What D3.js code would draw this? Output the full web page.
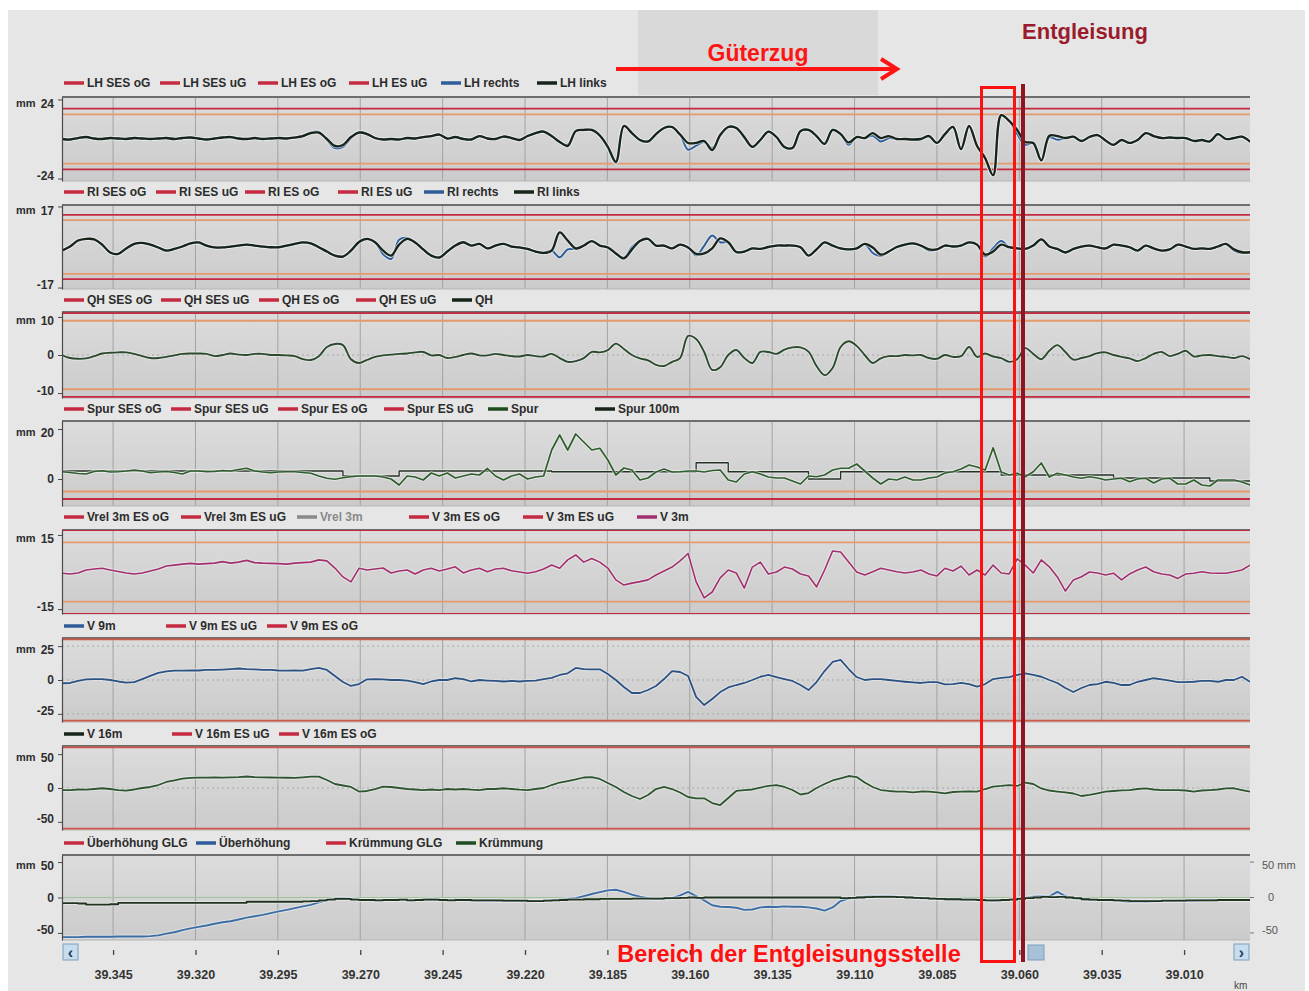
<!DOCTYPE html>
<html>
<head>
<meta charset="utf-8">
<script src="https://cdn.jsdelivr.net/npm/d3@7"></script>
<style>
  html, body { margin: 0; padding: 0; background: #fff; }
  svg text { font-family: "Liberation Sans Narrow", "Liberation Sans", Arial, sans-serif; }
</style>
</head>
<body>
<div id="wrapper"></div>
<script>
// km positions of the x ticks and the labels as printed on the chart
var kmStart = 39.3605, kmEnd = 39.000;
var kmTicks = [39.345, 39.320, 39.295, 39.270, 39.245, 39.220, 39.195, 39.170, 39.145, 39.120, 39.095, 39.070, 39.045, 39.020];
var kmTickLabels = ["39.345", "39.320", "39.295", "39.270", "39.245", "39.220", "39.185", "39.160", "39.135", "39.110", "39.085", "39.060", "39.035", "39.010"];

// Längshöhe (mm)
var lhLinks = [
  0, -0.3, 0.6, 1.2, 0.3, 0, 0.6, 0.3, 0, 0.6,
  0.3, 0, 0.3, 0.6, 0, 0.6, 0.9, 0.3, -0.3, 0.3,
  0.9, 1.2, 0.3, 0, 0.6, 0, 0.3, 0.6, 0.3, 0.9,
  1.8, 3.6, 3.9, 0, -4.2, -3.6, 1.2, 3.9, 3, 0.6,
  -0.3, 0, -0.3, 0.6, 0.3, 1.2, 1.8, 2.7, 0.3, 1.2,
  0, -0.3, 1.8, 0.3, 0, 1.5, 0.6, -0.6, 1.8, 3.6,
  4.5, 1.8, -1.8, -4.2, 4.8, 5.5, 5.5, 2.1, -4.7, -13.8,
  7.9, 3.6, -0.6, -1.5, 3, 6.7, 7.3, 2.7, -2.4, -2.4,
  -1.2, -6.7, 2.4, 7.3, 6.7, 1.2, -4.8, -0.6, 4.5, 1.2,
  -4.8, -5.5, 4.8, 5.5, 1.8, -3, 5.5, 3, -2.1, 1.2,
  0.6, 3.6, 0.6, 1.8, 0, 0, -0.3, 0, 1.8, -2.4,
  3, 7.3, -6.1, 7.9, -4.2, -11.5, -22, 14.5, 11, 5.5,
  -1.8, -2.4, -13, 2, 1.8, 0.6, 1.4, -1.2, 1.2, 2.4,
  -0.9, -3.6, -0.6, -2.4, -0.6, 3.6, 1.8, 0.6, 0.9, 0.6,
  0.6, -1.2, -0.6, -1.5, 3, 0, 0.6, 1.4, -1.6
];
var lhRechts = [
  0, -0.3, 0.6, 1.2, 0.3, 0, 0.6, 0.3, 0, 0.6,
  0.3, 0, 0.3, 0.6, 0, 0.6, 0.9, 0.3, -0.3, 0.3,
  0.9, 1.2, 0.3, 0, 0.6, 0, 0.3, 0.6, 0.3, 0.9,
  1.8, 3.9, 4.3, -0.5, -5.5, -4.8, 0.5, 4.3, 3.3, 0.6,
  -0.3, 0, -0.3, 0.6, 0.3, 1.2, 1.8, 2.7, 0.3, 1.2,
  0, -0.3, 1.8, 0.3, 0, 1.5, 0.6, -0.6, 1.8, 3.6,
  4.5, 1.8, -1.8, -3.5, 4.8, 5.5, 5.5, 2.1, -5.5, -14.5,
  7.9, 3.6, -0.6, -1.5, 3, 6.7, 7.3, 2.7, -6.5, -4,
  -1.8, -5.5, 2.4, 7.3, 6.7, 0.6, -4.8, -0.6, 4.5, 1.2,
  -4.8, -5.5, 4.8, 5.5, 1.8, -3, 5.5, 3.3, -3.5, 1.2,
  0.6, 2, -1.5, 0.5, 0, 0, -0.3, 0, 1.8, -2.4,
  3, 7.3, -6.1, 7.9, -4.2, -12, -22, 14.5, 11, 3,
  -3.5, -2.4, -13, 1, -0.5, 0.6, 1.4, -1.2, 1.2, 2.4,
  -0.9, -3.6, -0.6, -2.4, -0.6, 3.6, 1.8, 0.6, 0.9, 0.6,
  0.6, -1.2, -0.6, -1.5, 3, 0, 0.6, 1.4, -1.6
];

// Richtung (mm)
var riLinks = [
  -1.5, 0.2, 2.7, 3.4, 3.2, 1, -2.3, -2.9, -0.6, 1.3,
  1.7, 1, -0.2, -1.5, -0.8, 0.2, 1.5, 1.9, 0.6, -0.2,
  -0.2, 0.2, 0.6, 1, 0.6, 0.2, -0.1, -0.1, 0.6, 1.3,
  1.9, 1.5, -0.1, -1.9, -3.6, -4, -1.5, 2.1, 3.4, 2,
  -1.5, -3.6, 1, 3.4, 1.9, -1, -3.6, -4.4, -1.9, 0.6,
  2, 0.6, 1.3, -0.6, 0.6, 1.3, 0.2, -0.2, -0.8, -1.9,
  -2.5, -1.5, 6.1, 2.7, -0.6, 0.6, 2.5, 0.6, -0.2, -2.7,
  -4.8, -1, 2.5, 3.4, 0.6, 0.6, -0.6, 1, -0.2, -2.9,
  -2.7, -0.6, 3.6, 2, -2.1, -1.9, -0.6, -0.8, 0, 0.6,
  0.6, 0.6, -0.1, -3.6, -1, 1.9, 0.6, -0.6, -1, -0.6,
  1.3, -0.2, -3.2, -1.9, 0, 1, 1.5, 0.6, -1, -1,
  0.6, 0.2, 0.6, 1.9, 1, -3.2, -1.9, 1, -0.1, -0.6,
  -0.8, 0.6, 3.2, 0.2, -0.8, -2.3, -0.8, 0.2, 0.6, -0.1,
  -0.6, 1, 0.6, -0.1, -1.5, 0.6, -0.6, -1.5, -1, 1,
  0.2, -0.8, -0.6, -0.8, 0.2, 1.3, -1, -2.2, -2.2
];
var riRechts = [
  -1.5, 0.2, 2.7, 3.4, 3.2, 1, -2.3, -2.9, -0.6, 1.3,
  1.7, 1, -0.2, -1.5, -0.8, 0.2, 1.5, 1.9, 0.6, -0.2,
  -0.2, 0.2, 0.6, 1, 0.6, 0.2, -0.1, -0.1, 0.6, 1.3,
  1.9, 1.5, -0.1, -1.9, -3.6, -4, -1.5, 2.1, 3.4, 2,
  -3, -5, 3, 3.8, 1.9, -1, -3.6, -4.4, -1.9, 0.6,
  2, 0.6, 1.3, -0.6, 0.6, 1.3, 0.2, -0.2, -0.8, -1.9,
  -2.5, -1.5, -4.3, -1, -0.8, 0.6, 2.5, 0.6, -0.2, -2.7,
  -4.5, 0, 2.5, 3.4, 0.6, 0.6, -0.6, 1, -0.2, -3.6,
  0.5, 4.8, 2, 2, -2.1, -1.9, -0.6, -0.8, 0, 0.6,
  0.6, 0.6, -0.1, -3.6, -1, 1.9, 0.6, -0.6, -1, -0.6,
  1.3, -2.5, -3.8, -1.9, 0, 1, 1.5, 0.6, -1.5, -1,
  0.6, 0.2, 0.6, 1.9, 1, -4, -0.5, 2.5, -0.1, -0.6,
  -0.8, 0.6, 3.2, 0.2, -0.8, -2.3, -0.8, 0.2, 0.6, -0.1,
  -0.6, 1, 0.6, -0.1, -1.5, 0.6, -0.6, -1.5, -1, 1,
  0.2, -0.8, -0.6, -0.8, 0.2, 1.3, -1.5, -2.5, -2.2
];

// Querhöhe (mm)
var qh = [
  0, -0.8, -1, -0.9, -0.3, 0.4, 0.6, 0.7, 0.7, 0.3,
  -0.3, -0.8, -0.8, -0.5, -0.1, 0.3, 0.4, 0.4, 0.3, -0.3,
  0, 0.4, 0.1, 0, 0.3, 0.3, 0, 0, -0.1, -0.3,
  -1.1, -1.3, -0.3, 2.1, 2.9, 2.6, -1.1, -2.1, -1.3, -0.5,
  -0.1, 0.1, 0.3, 0.4, 0.7, 0.8, -0.1, 0, -0.8, -0.5,
  0, 0.4, -0.1, -0.1, 0.3, 0, -0.3, -0.4, 0, -0.3,
  -0.4, 0.3, -0.8, -1.8, -1.6, -0.8, 0.8, 0.7, 1.3, 3,
  1.6, 0, -0.9, -1.4, -2.6, -2.9, -1.8, -0.8, 5, 4.2,
  0.8, -3.9, -3.2, 0, 1.3, -0.8, -2.1, 0.8, 0.8, 0.3,
  1.4, 2, 2, 0.9, -2.9, -5.3, -3.4, 2.1, 3.6, 2.4,
  0, -2.1, -0.9, -0.3, -0.3, 0, -0.1, 0, -0.8, -1,
  0, -0.5, -0.3, 2.1, -0.5, 0.4, -0.4, -0.8, -1.8, -1.1,
  1.8, 0.3, -1.1, 1.1, 2.6, 0.8, -1.2, -0.8, -0.3, 0.5,
  0.7, 0, -0.5, -0.9, -1.6, -0.8, 0.3, 0.8, -0.3, 0.3,
  1.1, -0.4, -0.1, 0, -0.3, -0.5, -0.8, -0.3, -1.1
];

// Spurweite (mm)
var spur = [
  2.9, 2.6, 2.2, 2, 3, 3.3, 2.8, 2.9, 3.2, 3.6,
  3.2, 2.5, 2.8, 3, 2.6, 2, 3.2, 3.2, 2.9, 3,
  3.4, 3.2, 3.8, 4.3, 3.2, 2.8, 2.5, 2.8, 2.9, 2.9,
  2.6, 2.3, 1.2, 0.3, -0.1, 0.5, 0.9, 1.2, 1.2, 1.2,
  0.8, 0, -2.4, 1.2, 0.8, -0.4, 2.4, 1.2, 2.4, 0.4,
  1.2, 2, 1.6, 4.2, 1.2, -0.4, 1.2, 2, 0, 0.8,
  1.2, 11.6, 17.6, 11.6, 18, 14.8, 11.6, 12.3, 7.6, 1.6,
  4.4, 3.6, -0.4, 0.4, 2.8, 4, 2.8, 2.9, 3.2, 3.2,
  2.8, 3.4, 3.6, -0.4, -1.2, 2, 2.9, 2, 0.8, 0.4,
  0.4, -0.8, -2, 1.2, 0.9, 1.6, 3.6, 4.3, 4.3, 6,
  3.2, 0.4, -2, 0, -0.4, 0.8, -0.4, -0.4, 0.4, 0.8,
  2.4, 2.9, 4, 5.6, 4.8, 3.6, 12.5, 2.8, 1.6, 2.3,
  0.9, 2.9, 6.4, 0.8, 2.3, 1.6, 0.8, 0.3, 0.9, 0.4,
  -0.4, 0, 0.3, -1.1, 0, 0.3, -1.6, 0, 0.3, -2,
  -2, -0.4, -2.4, -2.8, -0.4, -0.4, -0.4, -1.2, -2.4
];
var spur100 = [
  3.2, 3.2, 3.2, 3.2, 3.2, 3.2, 3.2, 3.2, 3.2, 3.2,
  3.2, 3.2, 3.2, 3.2, 3.2, 3.2, 3.2, 3.2, 3.2, 3.2,
  3.2, 3.2, 3.2, 3.2, 3.2, 3.2, 3.2, 3.2, 3.2, 3.2,
  3.2, 3.2, 3.2, 3.2, 3.2, 1.2, 1.2, 1.2, 1.2, 1.2,
  1.2, 1.2, 3.2, 3.2, 3.2, 3.2, 3.2, 3.2, 3.2, 3.2,
  3.2, 3.2, 3.2, 3.2, 3.2, 3.2, 3.2, 3.2, 3.2, 3.2,
  3.2, 2.9, 2.9, 2.9, 2.9, 2.9, 2.9, 2.9, 2.9, 2.9,
  2.9, 2.9, 2.9, 2.9, 2.9, 2.9, 2.9, 2.9, 2.9, 6.5,
  6.5, 6.5, 6.5, 2.9, 2.9, 2.9, 2.9, 2.9, 2.9, 2.9,
  2.9, 2.9, 2.9, 0, 0, 0, 0, 2.9, 2.9, 2.9,
  2.9, 2.9, 2.9, 2.9, 2.9, 2.9, 2.9, 2.9, 2.9, 2.9,
  2.9, 2.9, 2.9, 2.9, 2.9, 2.9, 2.9, 1.6, 1.6, 1.6,
  1.6, 1.6, 1.6, 1.6, 1.6, 1.6, 1.6, 1.6, 1.6, 1.6,
  1.6, 0.4, 0.4, 0.4, 0.4, 0.4, 0.4, 0.4, 0.4, 0.4,
  0.4, 0.4, 0.4, -0.8, -0.8, -0.8, -0.8, -0.8, -0.8
];

// Verwindung 3m / 9m / 16m (mm)
var v3m = [
  -0.5, -0.8, -0.4, 0.8, 1.2, 1.5, 0.8, 0.2, -0.4, -0.8,
  -0.4, 0.4, 1.2, 2.4, 2.8, 3.2, 3.5, 3.2, 3.4, 3.6,
  4.2, 3.6, 4, 4.7, 3.8, 3.6, 3.5, 3.4, 3.2, 3.6,
  3.8, 4, 4.9, 4.5, 1.6, -2, -4, 1.5, 0.8, 1.2,
  1.6, -0.4, 0.4, 0.8, -0.8, 0.8, 1.5, 0.4, 1.2, 2.1,
  -0.4, 0.8, 1.5, 0.1, 1.2, 1.5, 0.5, 0, -0.5, 0.1,
  1.2, 2.8, 1.5, 4.9, 6.9, 4, 5.5, 4, 1.6, -3.2,
  -5.3, -4.5, -3.9, -3.2, -1.2, 0.4, 2, 4.5, 7.5, -4,
  -10.5, -8.1, -2.4, 0.8, -0.4, -6.5, 2, 4, -0.8, 0,
  2, 1.2, -0.8, -1.6, -6, 0.8, 8.5, 8.1, 4, 0,
  -1.2, 0.1, 1.5, 0.8, 0.1, -0.4, 0, 0.8, -0.8, -1.6,
  1.5, 0.4, 2.4, -1.2, 0.8, -1.2, 2.8, -0.4, -0.8, 5.3,
  2.8, -0.4, 4.9, 2.1, -2, -7.7, -3.2, -1.9, 0, -0.4,
  -1.2, -0.5, -3.2, -0.8, 0.8, 2, 0.1, -0.8, -1.2, -2.6,
  -0.8, -0.5, 0.1, -0.4, -0.5, -0.5, 0.1, 0.8, 2.8
];
var v9m = [
  -2.4, -2.2, -0.7, 0.4, 0.7, 0.7, 0, -1.1, -2, -1.5,
  0.7, 3, 5.2, 6.3, 6.9, 6.9, 7, 7, 7.4, 7.4,
  7.7, 8.1, 8.5, 8.1, 7.9, 7.4, 7.4, 7, 6.9, 7,
  6.9, 8.1, 8.9, 7.4, 3, -1.5, -4.4, -3, 0.5, 0.7,
  0.4, 0, 0, -0.4, -1.5, -3, -1.1, 0, 0, 1.3,
  0.7, -1.1, 0, -0.4, -0.7, -1.1, -0.7, -1.1, -0.7, -0.4,
  0.7, 1.5, 3.7, 4.9, 8.9, 8.1, 7.9, 7.9, 4.4, 0,
  -5.2, -9.6, -9.6, -7.4, -4.4, 0.7, 6.6, 5.9, 3, -12.5,
  -18.5, -14, -8.9, -5.5, -3.7, -2.2, 0, 2.4, 3.7, 2.2,
  0.7, -0.7, -3.7, -7.4, -1.5, 6.6, 13.3, 14.8, 8.1, 2.2,
  0, 0.7, 0.7, 0, -0.7, -1.3, -1.8, -2.2, -1.5, -1.5,
  -3.3, -3, -2.2, -3, -4.9, -3, 0.7, 1.5, 2.2, 3.7,
  4.9, 3.7, 2.4, 0, -2.2, -5.9, -8.9, -5.9, -3.7, -3,
  -1.3, -2.2, -3.7, -3.7, -1.3, 0, 1.3, 0.4, -0.5, -1.5,
  -1.5, -1.3, -0.7, -0.7, -1.3, 0, 0, 2.4, -1.3
];
var v16m = [
  -3, -3, -2.2, -2.5, -1.5, -0.4, -1.5, -3, -4, -2.2,
  0, 1.5, 4.4, 8.9, 11.1, 13.7, 14.8, 15.2, 15.2, 15.5,
  15.2, 15.8, 16.2, 17, 16.2, 15.8, 15.5, 15.2, 15.1, 14.8,
  15.8, 16.7, 16.7, 11.8, 5.9, 3.7, 1.5, -5.2, -4.4, -1.5,
  1.9, 1.5, 0, -1.5, -2.2, -3, -2.2, -3, -1.5, -2.2,
  -1.5, -2.5, -3, -1.5, -1.5, -0.4, -1.5, -2.5, -3, -1.5,
  0, 4.4, 8.1, 10.3, 12.6, 15.5, 16.2, 13.3, 7.4, 1.5,
  -5.9, -11.8, -16.2, -10.3, -1.5, 1.5, -1.5, -6.6, -13.3, -15.2,
  -15.2, -22.2, -25.1, -14.8, -4.4, -3, -2.2, 0.7, 3, 4.4,
  1.5, -3, -9.6, -7.4, 0, 5.9, 11.1, 14.3, 17.7, 16.2,
  8.1, 1.5, -3, -4.4, -5.4, -5.4, -6.4, -5.2, -5.4, -6.6,
  -7.8, -5.9, -5.4, -5.2, -5.4, -1.5, 1.9, 3, 4.4, 3,
  8.1, 5.9, -0.7, -3.7, -5.2, -6.6, -8.1, -11.8, -10.3, -7.8,
  -5.4, -4.4, -3.4, -3, -1.5, -0.7, -2.2, -3, -3, -3,
  -3.7, -5.2, -3.7, -3, -2.2, -0.7, -0.4, -3, -5.4
];

// Überhöhung und Krümmung
var ueberhoehung = [
  -56, -56, -56, -55.5, -55.5, -55.5, -55.5, -55, -55, -55,
  -55, -54.5, -53.5, -51, -49, -46, -43.5, -41.5, -39.5, -37,
  -35, -33.5, -31, -28.5, -26.5, -24.5, -22, -19.5, -17.5, -15,
  -12.5, -10.5, -7, -3.5, -1.5, -1, -2, -3, -3.5, -4,
  -3.5, -3.5, -3, -4, -3.5, -3, -2.5, -3.5, -4, -3,
  -3.5, -4, -4.5, -4, -4.5, -5, -4.5, -5, -5.5, -5,
  -5, -4, -3, -2, -1, 2, 5, 7.5, 10, 11,
  8, 4, 1, -1, -2, -1.5, -1, 3, 8, 2,
  -4, -11, -13, -13.5, -14.5, -17.5, -17, -14, -13, -13.5,
  -12.5, -13, -13, -14, -15.5, -18.5, -14, -5, -1.5, 0,
  1, 1.5, 2, 2, 1, 0.5, 0, -1, -1.5, -2,
  -2.5, -2.5, -3, -3, -3.5, -4, -4.5, -3.5, -3, -1.5,
  -0.5, 1, 2, 1.5, 8, 2, -1, -2.5, -3.5, -3.5,
  -3.5, -4, -5, -6, -5.5, -6, -5.5, -5, -5, -4.5,
  -4.5, -4.5, -4, -4, -3.5, -3.5, -3.5, -3.5, -3.5
];
var kruemmung = [
  -8, -8, -8.5, -10, -10, -10, -9.5, -7.5, -7.5, -7.5,
  -7.5, -7.5, -7.5, -7.5, -7.5, -7.5, -7.5, -7.5, -7.5, -7.5,
  -7.5, -7.5, -7.5, -6, -6, -6, -6, -6, -6, -6,
  -5.5, -5, -4, -3, -2, -2, -3, -3.5, -3.5, -4,
  -3.5, -3.5, -3, -4, -3.5, -3, -3, -3.5, -4, -3.5,
  -3.5, -4, -4, -4, -4, -4.5, -4.5, -4.5, -5, -5,
  -4.5, -4, -3.5, -3, -3, -2.5, -2.5, -2, -2, -2,
  -2, -1.5, -1.5, -1.5, -1.5, -1, -1, -0.5, 0, -0.5,
  0, 0, 0, 0, 0, 0, 0, 0, 0, 0,
  0, 0, 0, 0, 0, 0, 0, -1, -0.5, 0,
  0.5, 1, 1, 1, 0.5, 0, -0.5, -1, -1.5, -2,
  -2.5, -2.5, -3, -3, -3.5, -4, -4, -3.5, -3, -2,
  -1, 0, 1, 0.5, 1, 0, -1, -2.5, -3, -3.5,
  -3.5, -4, -4.5, -5, -5, -5, -5, -4.5, -4.5, -4.5,
  -4, -4, -4, -4, -3.5, -3.5, -3.5, -3.5, -3.5
];

// limit values per panel (mm)
var lhLimits = [18.5, 15, -15, -18.5];
var riLimits = [13.5, 11.3, -11.3, -13.5];
var qhLimits = [11, 9, -9, -11];
var spurLimits = [30, 26, -5, -8];
var v3mLimits = [17, 12, -12, -17];
var v9mLimits = [30, -30];
var v16mLimits = [60, -60];

drawChart();
function drawChart() {
  var RED = "#c42a40", ORANGE = "#e59a6c", BLUE = "#2f5d9a", BLACK = "#16241a";
  var left = 62, right = 1250;
  var NARROW = "Liberation Sans Narrow, Liberation Sans, Arial, sans-serif";

  var svg = d3.select("#wrapper").append("svg")
      .attr("width", 1309)
      .attr("height", 991);

  var defs = svg.append("defs");
  var grad = defs.append("linearGradient").attr("id", "panelBg")
      .attr("x1", 0).attr("y1", 0).attr("x2", 0).attr("y2", 1);
  grad.append("stop").attr("offset", "0%").attr("stop-color", "#dcdcdc");
  grad.append("stop").attr("offset", "100%").attr("stop-color", "#cbcbcb");

  // page background
  svg.append("rect").attr("x", 8).attr("y", 10).attr("width", 1297).attr("height", 981).attr("fill", "#e6e6e6");
  svg.append("rect").attr("x", 638).attr("y", 10).attr("width", 240).attr("height", 85).attr("fill", "#d9d9d9");

  // set the x range
  var x = d3.scaleLinear().domain([kmStart, kmEnd]).range([left, right]);
  var n = lhLinks.length;
  var kmSamples = d3.range(n).map(function (i) { return kmStart + (kmEnd - kmStart) * i / (n - 1); });

  var catmull = d3.curveCatmullRom.alpha(0.5);

  var panels = [
    { top: 97, bottom: 181, domain: [-25.5, 25.5], ticks: [24, -24], legendY: 83,
      limits: lhLimits, limitColors: [RED, ORANGE, ORANGE, RED],
      series: [{ v: lhRechts, c: BLUE, w: 2, curve: catmull }, { v: lhLinks, c: BLACK, w: 2.3, curve: catmull }],
      legend: [[64, "LH SES oG", RED], [160, "LH SES uG", RED], [258, "LH ES oG", RED], [349, "LH ES uG", RED], [441, "LH rechts", BLUE], [537, "LH links", BLACK]] },
    { top: 205, bottom: 289, domain: [-17.6, 17.6], ticks: [17, -17], legendY: 192,
      limits: riLimits, limitColors: [RED, ORANGE, ORANGE, RED],
      series: [{ v: riRechts, c: BLUE, w: 2, curve: catmull }, { v: riLinks, c: BLACK, w: 2.3, curve: catmull }],
      legend: [[64, "RI SES oG", RED], [156, "RI SES uG", RED], [245, "RI ES oG", RED], [338, "RI ES uG", RED], [424, "RI rechts", BLUE], [514, "RI links", BLACK]] },
    { top: 312, bottom: 398, domain: [-11.3, 11.3], ticks: [10, 0, -10], legendY: 300, dashed: [0],
      limits: qhLimits, limitColors: [RED, ORANGE, ORANGE, RED],
      series: [{ v: qh, c: "#2b4a2e", w: 1.9, curve: catmull }],
      legend: [[64, "QH SES oG", RED], [161, "QH SES uG", RED], [259, "QH ES oG", RED], [356, "QH ES uG", RED], [452, "QH", BLACK]] },
    { top: 421, bottom: 506, domain: [-10.8, 23.2], ticks: [20, 0], legendY: 409,
      limits: spurLimits, limitColors: [RED, ORANGE, ORANGE, RED],
      series: [{ v: spur100, c: "#243224", w: 1.3, curve: d3.curveStepAfter }, { v: spur, c: "#2f5f2f", w: 1.7, curve: d3.curveLinear }],
      legend: [[64, "Spur SES oG", RED], [171, "Spur SES uG", RED], [278, "Spur ES oG", RED], [384, "Spur ES uG", RED], [488, "Spur", "#1f4d1f"], [595, "Spur 100m", BLACK]] },
    { top: 530, bottom: 614, domain: [-17, 17], ticks: [15, -15], legendY: 517,
      limits: v3mLimits, limitColors: [RED, ORANGE, ORANGE, RED],
      series: [{ v: v3m, c: "#a2306e", w: 1.6, curve: d3.curveLinear }],
      legend: [[64, "Vrel 3m ES oG", RED], [181, "Vrel 3m ES uG", RED], [297, "Vrel 3m", "#8a8a8a", "#8a8a8a"], [409, "V 3m ES oG", RED], [523, "V 3m ES uG", RED], [637, "V 3m", "#a2306e"]] },
    { top: 638, bottom: 722, domain: [-31, 31], ticks: [25, 0, -25], legendY: 626, dashed: [25, 0, -25],
      limits: v9mLimits, limitColors: ["#d0584a", "#d0584a"],
      series: [{ v: v9m, c: "#2c5283", w: 1.8, curve: d3.curveLinear }],
      legend: [[64, "V 9m", BLUE], [166, "V 9m ES uG", RED], [267, "V 9m ES oG", RED]] },
    { top: 746, bottom: 830, domain: [-62, 62], ticks: [50, 0, -50], legendY: 734, dashed: [0],
      limits: v16mLimits, limitColors: ["#d0584a", "#d0584a"],
      series: [{ v: v16m, c: "#2e5530", w: 1.8, curve: d3.curveLinear }],
      legend: [[64, "V 16m", BLACK], [172, "V 16m ES uG", RED], [279, "V 16m ES oG", RED]] },
    { top: 855, bottom: 940, domain: [-60, 60], ticks: [50, 0, -50], legendY: 843, glg: true, rightAxis: true,
      limits: [], limitColors: [],
      series: [{ v: ueberhoehung, c: "#3c6ea6", w: 1.9, curve: d3.curveLinear }, { v: kruemmung, c: "#1f331f", w: 1.8, curve: d3.curveStepAfter }],
      legend: [[64, "Überhöhung GLG", RED], [196, "Überhöhung", BLUE], [326, "Krümmung GLG", RED], [456, "Krümmung", "#1f4d1f"]] }
  ];

  panels.forEach(function (p, k) {
    var y = d3.scaleLinear().domain(p.domain).range([p.bottom, p.top]);
    var g = svg.append("g");

    g.append("clipPath").attr("id", "clip" + k).append("rect")
        .attr("x", left).attr("y", p.top).attr("width", right - left).attr("height", p.bottom - p.top);

    g.append("rect")
        .attr("x", left).attr("y", p.top)
        .attr("width", right - left).attr("height", p.bottom - p.top)
        .attr("fill", "url(#panelBg)");

    // vertical grid
    g.selectAll(".grid").data(kmTicks).enter().append("line")
        .attr("x1", function (d) { return x(d); })
        .attr("x2", function (d) { return x(d); })
        .attr("y1", p.top).attr("y2", p.bottom)
        .attr("stroke", "#9d9d9d").attr("stroke-width", 0.9);

    // frame
    g.append("line").attr("x1", left).attr("x2", right).attr("y1", p.top).attr("y2", p.top)
        .attr("stroke", "#6e6e6e").attr("stroke-width", 2);
    g.append("line").attr("x1", left).attr("x2", right).attr("y1", p.bottom).attr("y2", p.bottom)
        .attr("stroke", "#b5b5b5").attr("stroke-width", 1);

    var inner = g.append("g").attr("clip-path", "url(#clip" + k + ")");

    (p.dashed || []).forEach(function (v) {
      inner.append("line")
          .attr("x1", left).attr("x2", right)
          .attr("y1", y(v)).attr("y2", y(v))
          .attr("stroke", "#a9a9a9").attr("stroke-width", 1)
          .attr("stroke-dasharray", "2,3");
    });

    if (p.glg) {
      inner.append("line")
          .attr("x1", left).attr("x2", right)
          .attr("y1", y(0)).attr("y2", y(0))
          .attr("stroke", "#9fc49a").attr("stroke-width", 1.2);
    }

    // limit lines
    p.limits.forEach(function (v, j) {
      inner.append("line")
          .attr("x1", left).attr("x2", right)
          .attr("y1", y(v)).attr("y2", y(v))
          .attr("stroke", p.limitColors[j]).attr("stroke-width", 1.8);
    });

    // measured lines
    p.series.forEach(function (s) {
      var line = d3.line()
          .x(function (d, i) { return x(kmSamples[i]); })
          .y(function (d) { return y(d); })
          .curve(s.curve);
      inner.append("path").datum(s.v)
          .attr("d", line).attr("fill", "none")
          .attr("stroke", "#f2f2f2").attr("stroke-opacity", 0.55)
          .attr("stroke-width", s.w + 2).attr("stroke-linejoin", "round");
      inner.append("path").datum(s.v)
          .attr("d", line).attr("fill", "none")
          .attr("stroke", s.c).attr("stroke-width", s.w)
          .attr("stroke-linejoin", "round");
    });

    // add the y Axis
    var maxT = d3.max(p.ticks), minT = d3.min(p.ticks);
    var ax = g.append("g")
        .attr("transform", "translate(" + left + ",0)")
        .call(d3.axisLeft(y).tickValues(p.ticks).tickSize(4).tickSizeOuter(0).tickPadding(4)
          .tickFormat(function (d) { return String(d); }));
    ax.select(".domain").attr("stroke", "#4a4a4a").attr("stroke-width", 1.2);
    ax.selectAll(".tick line").attr("stroke", "#4a4a4a");
    ax.selectAll(".tick text")
        .attr("font-size", "12px").attr("font-weight", "bold").attr("fill", "#2e2e2e")
        .attr("font-family", NARROW)
        .attr("dy", function (d) { return d === maxT ? "0.65em" : (d === minT && d < 0 ? "0.08em" : "0.32em"); });
    g.append("text")
        .attr("x", 16).attr("y", y(maxT)).attr("dy", "0.65em")
        .attr("font-size", "11px").attr("font-weight", "bold").attr("fill", "#2e2e2e")
        .text("mm");

    if (p.rightAxis) {
      p.ticks.forEach(function (v) {
        g.append("line").attr("x1", right).attr("x2", right + 4)
            .attr("y1", y(v)).attr("y2", y(v)).attr("stroke", "#777");
        g.append("text")
            .attr("x", right + (v === 0 ? 18 : 12)).attr("y", y(v))
            .attr("dy", v === maxT ? "0.65em" : (v === minT ? "0.08em" : "0.32em"))
            .attr("font-size", "11px").attr("fill", "#555")
            .text(v === maxT ? v + " mm" : String(v));
      });
    }

    // legend
    p.legend.forEach(function (item) {
      g.append("line")
          .attr("x1", item[0]).attr("x2", item[0] + 20)
          .attr("y1", p.legendY).attr("y2", p.legendY)
          .attr("stroke", item[2]).attr("stroke-width", 3.5);
      g.append("text")
          .attr("x", item[0] + 23).attr("y", p.legendY).attr("dy", "0.35em")
          .attr("font-size", "12px").attr("font-weight", "bold")
          .attr("fill", item[3] || "#2c2c2c")
          .text(item[1]);
    });
  });

  // add the x Axis
  var xAxis = svg.append("g")
      .attr("transform", "translate(0,950)")
      .call(d3.axisBottom(x).tickValues(kmTicks)
        .tickFormat(function (d, i) { return kmTickLabels[i]; })
        .tickSize(5).tickPadding(15));
  xAxis.select(".domain").remove();
  xAxis.selectAll(".tick line").attr("stroke", "#444").attr("stroke-width", 1.3);
  xAxis.selectAll(".tick text")
      .attr("font-size", "12.5px").attr("font-weight", "bold").attr("fill", "#333")
      .attr("font-family", NARROW);

  svg.append("text").attr("x", 1234).attr("y", 989)
      .attr("font-size", "10px").attr("fill", "#444").text("km");

  // scroll buttons
  [[63, "‹"], [1234, "›"]].forEach(function (b) {
    svg.append("rect").attr("x", b[0]).attr("y", 944).attr("width", 15).attr("height", 16)
        .attr("fill", "#c7dcec").attr("stroke", "#7c9fbd");
    svg.append("text").attr("x", b[0] + 7.5).attr("y", 952).attr("dy", "0.35em")
        .attr("text-anchor", "middle").attr("font-size", "16px").attr("font-weight", "bold")
        .attr("fill", "#1d3c66").text(b[1]);
  });
  svg.append("rect").attr("x", 1028).attr("y", 945).attr("width", 16).attr("height", 15)
      .attr("fill", "#a7c2d8").attr("stroke", "#7c9fbd");

  // annotations
  svg.append("text")
      .attr("x", 758).attr("y", 61).attr("text-anchor", "middle")
      .style("font-family", "Liberation Sans, Arial, sans-serif")
      .style("font-size", "23px").style("font-weight", "bold")
      .attr("fill", "#ff1414").text("Güterzug");
  svg.append("line").attr("x1", 616).attr("x2", 895).attr("y1", 69).attr("y2", 69)
      .attr("stroke", "#ff1414").attr("stroke-width", 4);
  svg.append("polyline").attr("points", "881,59 897,69 881,79")
      .attr("fill", "none").attr("stroke", "#ff1414").attr("stroke-width", 4);

  svg.append("text")
      .attr("x", 1085).attr("y", 39).attr("text-anchor", "middle")
      .style("font-family", "Liberation Sans, Arial, sans-serif")
      .style("font-size", "22px").style("font-weight", "bold")
      .attr("fill", "#9a1b2c").text("Entgleisung");

  svg.append("rect").attr("x", 981.5).attr("y", 87.5).attr("width", 33).attr("height", 874)
      .attr("fill", "none").attr("stroke", "#ff1010").attr("stroke-width", 3);
  svg.append("line").attr("x1", 1023).attr("x2", 1023).attr("y1", 84).attr("y2", 962)
      .attr("stroke", "#8e1422").attr("stroke-width", 4);

  svg.append("text")
      .attr("x", 789).attr("y", 962).attr("text-anchor", "middle")
      .style("font-family", "Liberation Sans, Arial, sans-serif")
      .style("font-size", "23.5px").style("font-weight", "bold")
      .attr("fill", "#ff1010").text("Bereich der Entgleisungsstelle");
}
</script>
</body>
</html>
